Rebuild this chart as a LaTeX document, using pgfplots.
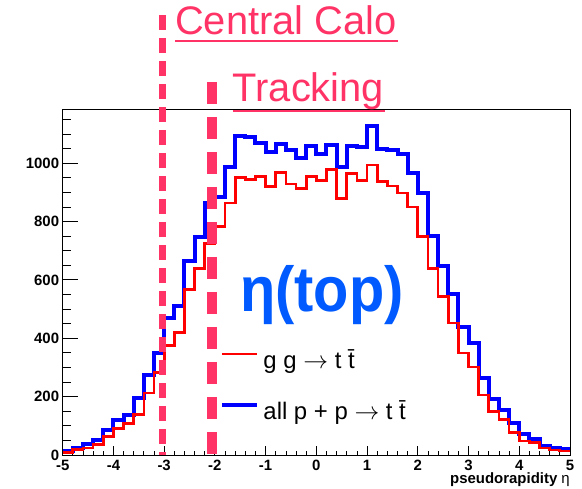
\documentclass[border=0pt]{standalone}
\usepackage{fontspec}
\setmainfont{Liberation Sans}
\usepackage{pgfplots}
\usepackage{pgfplotstable}
\pgfplotsset{compat=1.18}

\definecolor{calopink}{RGB}{255,51,102}
\definecolor{titleblue}{RGB}{0,90,255}

\newcommand{\toarrow}{{\fontsize{27}{27}\selectfont$\rightarrow$}}

% top-quark pseudorapidity, 0.2-wide bins (left edges); last row closes the final bin
\pgfplotstableread{
x     all   gg
-5.0  13    9
-4.8  24    18
-4.6  39    24
-4.4  52    37
-4.2  85    63
-4.0  121   92
-3.8  138   109
-3.6  194   138
-3.4  273   212
-3.2  351   283
-3.0  471   375
-2.8  511   420
-2.6  663   566
-2.4  748   640
-2.2  862   725
-2.0  885   783
-1.8  988   863
-1.6  1094  951
-1.4  1090  945
-1.2  1068  954
-1.0  1039  920
-0.8  1066  969
-0.6  1045  928
-0.4  1017  912
-0.2  1057  955
0.0   1032  940
0.2   1062  979
0.4   986   880
0.6   1059  965
0.8   1054  940
1.0   1127  994
1.2   1050  937
1.4   1046  922
1.6   1032  898
1.8   966   850
2.0   896   748
2.2   752   639
2.4   649   543
2.6   553   452
2.8   437   350
3.0   385   302
3.2   265   206
3.4   193   150
3.6   153   121
3.8   110   78
4.0   72    48
4.2   56    44
4.4   32    24
4.6   24    17
4.8   20    14
5.0   20    14
}\etatable

\begin{document}
\begin{tikzpicture}[x=1bp,y=1bp]
\begin{axis}[
  anchor=south west,
  scale only axis, width=507.3bp, height=345.9bp,
  xmin=-5, xmax=5, ymin=0, ymax=1185,
  clip=false,
  axis line style={black, line width=0.9bp},
  tick pos=left, tick align=inside,
  xtick={-5,-4,...,5},
  minor xtick={-4.8,-4.6,...,4.9},
  ytick={0,200,...,1000},
  minor ytick={50,100,...,1150},
  xtick style={/pgfplots/major tick length=9.3bp, /pgfplots/minor tick length=4.5bp, line width=0.8bp, black},
  ytick style={/pgfplots/major tick length=15bp, /pgfplots/minor tick length=8bp, line width=0.8bp, black},
  scaled y ticks=false,
  /pgf/number format/assume math mode=true,
  /pgf/number format/1000 sep={},
  ticklabel style={font=\bfseries\fontsize{15}{15}\selectfont},
  yticklabel style={inner sep=0pt, xshift=-3.4bp},
  xticklabel style={inner sep=0pt, yshift=-5bp},
  xlabel={\textbf{pseudorapidity} η},
  x label style={at={(axis description cs:1,0)}, anchor=base east, inner sep=0pt, yshift=-28.5bp, font=\fontsize{15}{15}\selectfont},
  legend cell align=left,
  legend style={draw=none, fill=none, inner sep=0pt, at={(axis cs:-1.9,360)}, anchor=north west,
    font=\fontsize{24}{24}\selectfont, row sep=27bp, column sep=5bp,
    nodes={inner sep=0pt, text height=18bp, text depth=6bp}},
  legend image code/.code={\draw[#1] (0bp,8bp) -- (35bp,8bp);},
]
% histograms
\addplot[const plot, blue, line width=4bp, forget plot] table[x=x, y=all] {\etatable};
\addplot[const plot, red, line width=2.7bp, forget plot] table[x=x, y=gg] {\etatable};

% detector acceptance edges
\addplot[calopink, line width=7bp, dash pattern=on 15bp off 8bp, forget plot] coordinates {(-3.03,1507) (-3.03,0)};
\addplot[calopink, line width=10bp, dash pattern=on 22bp off 13bp, forget plot] coordinates {(-2.05,1278) (-2.05,0)};

\addlegendimage{red, line width=1.3bp}
\addlegendentry{g g \toarrow\ t \=t}
\addlegendimage{blue, line width=3.3bp}
\addlegendentry{all p + p \toarrow\ t \=t}

\node[anchor=base west, inner sep=0pt, text=calopink, font=\fontsize{40}{40}\selectfont] at (axis cs:-2.786,1439) {Central Calo};
\draw[calopink, line width=2bp] (axis cs:-2.786,1419.5) -- (axis cs:1.609,1419.5);
\node[anchor=base west, inner sep=0pt, text=calopink, font=\fontsize{40}{40}\selectfont] at (axis cs:-1.652,1209.6) {Tracking};
\draw[calopink, line width=2bp] (axis cs:-1.649,1179.8) -- (axis cs:1.353,1179.8);

\node[anchor=base west, inner sep=0pt, text=titleblue, yscale=1.1, font=\bfseries\fontsize{58}{58}\selectfont] at (axis cs:-1.505,492) {η(top)};

% page corners
\coordinate (pageSW) at (axis cs:-6.236,-115.8);
\coordinate (pageNE) at (axis cs:5.237,1558.9);
\end{axis}
\pgfresetboundingbox
\path[use as bounding box] (pageSW) rectangle (pageNE);
\end{tikzpicture}
\end{document}
